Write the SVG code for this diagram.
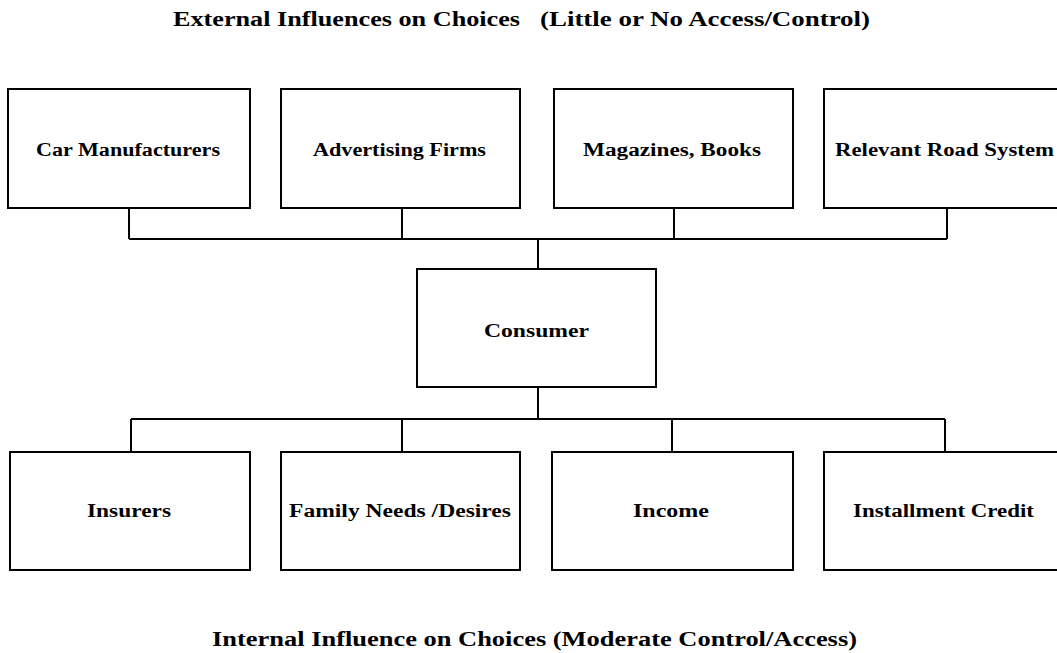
<svg xmlns="http://www.w3.org/2000/svg" width="1057" height="653" viewBox="0 0 1057 653">
  <style>
    .box { fill: #ffffff; stroke: #000000; stroke-width: 2; }
    .wire { fill: none; stroke: #000000; stroke-width: 2; }
    .lbl { font-family: "Liberation Serif", "Times New Roman", serif; font-weight: bold; font-size: 18px; fill: #000000; text-anchor: middle; }
    .ttl { font-family: "Liberation Serif", "Times New Roman", serif; font-weight: bold; font-size: 20px; fill: #000000; }
  </style>
  <rect x="0" y="0" width="1057" height="653" fill="#ffffff"/>

  <!-- headings -->
  <g id="title-external">
    <text class="ttl" x="173" y="26" textLength="347" lengthAdjust="spacingAndGlyphs">External Influences on Choices</text>
    <text class="ttl" x="540" y="26" textLength="330" lengthAdjust="spacingAndGlyphs">(Little or No Access/Control)</text>
  </g>
  <g id="title-internal">
    <text class="ttl" x="212" y="646" textLength="645" lengthAdjust="spacingAndGlyphs">Internal Influence on Choices (Moderate Control/Access)</text>
  </g>

  <!-- connectors -->
  <g id="connectors">
    <path class="wire" d="M129 208 V239 M402 208 V239 M674 208 V239 M947 208 V239 M129 239 H947 M538 239 V269"/>
    <path class="wire" d="M538 387 V419 M131 419 H945 M131 419 V452 M402 419 V452 M672 419 V452 M945 419 V452"/>
  </g>

  <!-- external influences -->
  <g id="car-manufacturers">
    <rect class="box" x="8" y="89" width="242" height="119"/>
    <text class="lbl" x="128" y="156" textLength="184" lengthAdjust="spacingAndGlyphs">Car Manufacturers</text>
  </g>
  <g id="advertising-firms">
    <rect class="box" x="281" y="89" width="239" height="119"/>
    <text class="lbl" x="399.5" y="156" textLength="173" lengthAdjust="spacingAndGlyphs">Advertising Firms</text>
  </g>
  <g id="magazines-books">
    <rect class="box" x="554" y="89" width="239" height="119"/>
    <text class="lbl" x="672" y="156" textLength="178" lengthAdjust="spacingAndGlyphs">Magazines, Books</text>
  </g>
  <g id="road-system">
    <rect class="box" x="824" y="89" width="240" height="119"/>
    <text class="lbl" x="944.5" y="156" textLength="219" lengthAdjust="spacingAndGlyphs">Relevant Road System</text>
  </g>

  <!-- centre -->
  <g id="consumer">
    <rect class="box" x="417" y="269" width="239" height="118"/>
    <text class="lbl" x="536.5" y="337" textLength="105" lengthAdjust="spacingAndGlyphs">Consumer</text>
  </g>

  <!-- internal influences -->
  <g id="insurers">
    <rect class="box" x="10" y="452" width="240" height="118"/>
    <text class="lbl" x="129" y="517" textLength="84" lengthAdjust="spacingAndGlyphs">Insurers</text>
  </g>
  <g id="family-needs">
    <rect class="box" x="281" y="452" width="239" height="118"/>
    <text class="lbl" x="400" y="517" textLength="222" lengthAdjust="spacingAndGlyphs">Family Needs /Desires</text>
  </g>
  <g id="income">
    <rect class="box" x="552" y="452" width="241" height="118"/>
    <text class="lbl" x="671" y="517" textLength="76" lengthAdjust="spacingAndGlyphs">Income</text>
  </g>
  <g id="installment-credit">
    <rect class="box" x="824" y="452" width="240" height="118"/>
    <text class="lbl" x="943.5" y="517" textLength="181" lengthAdjust="spacingAndGlyphs">Installment Credit</text>
  </g>
</svg>
